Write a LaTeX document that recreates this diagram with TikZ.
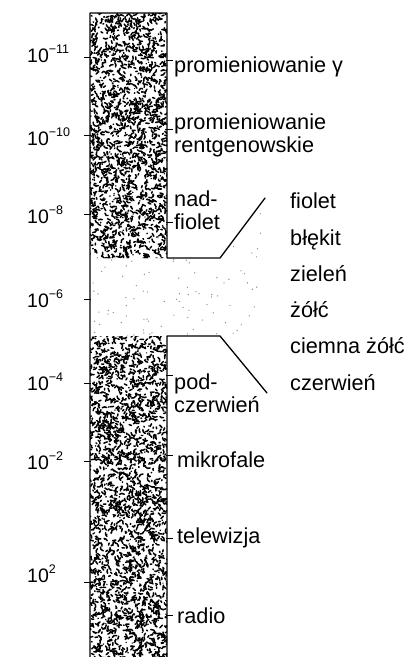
\documentclass[tikz,border=0pt]{standalone}
\usepackage{fontspec}
\setmainfont{Liberation Sans}
\begin{document}
\begin{tikzpicture}[x=1pt,y=-1pt,
  lbl/.style={anchor=base west,inner sep=0pt,font=\fontsize{21.7}{23}\selectfont,align=left},
  exps/.style={anchor=base west,inner sep=0pt,font=\fontsize{19.5}{22}\selectfont},
  tick/.style={line width=1pt},
  edge/.style={line width=1.3pt,line cap=round,line join=round}]
\newcommand{\sexp}[1]{10\raisebox{0.42em}{\fontsize{12.5}{13}\selectfont #1}}
\useasboundingbox (0,0) rectangle (417,657);
% texture of the column
\begin{scope}
\clip (90,13) rectangle (167,258) (90,336) rectangle (167,657);
\pgfmathsetseed{7}
\foreach \i in {1,...,4600}{
  \pgfmathsetmacro\xx{88+81*rnd}
  \pgfmathsetmacro\yy{11+648*rnd}
  \pgfmathsetmacro\aa{360*rnd}
  \pgfmathsetmacro\bb{180*rnd-90}
  \draw[line width=1.5pt,line cap=round] (\xx,\yy) arc[start angle=\aa,delta angle=\bb,radius=3.4];
}
\end{scope}
% faint dots in the visible band
\begin{scope}
\clip (91,258) -- (220,258) -- (262,205) -- (262,388) -- (220,336) -- (91,336) -- cycle;
\pgfmathsetseed{11}
\foreach \i in {1,...,170}{
  \pgfmathsetmacro\xx{92+170*rnd}
  \pgfmathsetmacro\yy{205+185*rnd}
  \fill[black!45] (\xx,\yy) circle[radius=0.7];
}
\end{scope}
% outline
\coordinate (bl) at (90,657);
\coordinate (tl) at (90,13);
\coordinate (tr) at (167,13);
\coordinate (gt) at (167,258);
\coordinate (gtk) at (220,258);
\coordinate (gte) at (265,198);
\coordinate (br) at (167,657);
\coordinate (gb) at (167,336);
\coordinate (gbk) at (220,336);
\coordinate (gbe) at (267,393);
\draw[edge] (bl) -- (tl) -- (tr) -- (gt) -- (gtk) -- (gte);
\draw[edge] (br) -- (gb) -- (gbk) -- (gbe);
% left scale
\foreach \y in {57,135,214,299,383,461,582}{
  \draw[tick] (84,\y) -- (91,\y);
}
\node[exps] (e11) at (27,62) {\sexp{−11}};
\node[exps] (e10) at (27,145) {\sexp{−10}};
\node[exps] (e8) at (27,223) {\sexp{−8}};
\node[exps] (e6) at (27,307) {\sexp{−6}};
\node[exps] (e4) at (27,390) {\sexp{−4}};
\node[exps] (e2) at (27,469) {\sexp{−2}};
\node[exps] (ep2) at (27,582) {\sexp{2}};
% right ticks
\foreach \y in {60,129,222,375,455,538,615}{
  \draw[tick] (166,\y) -- (173,\y);
}
\node[lbl] (gamma) at (174,72) {promieniowanie γ};
\node[lbl] (xray) at (174,152) {promieniowanie\\rentgenowskie};
\node[lbl] (uv) at (174,229) {nad-\\fiolet};
\node[lbl] (ir) at (174,412) {pod-\\czerwień};
\node[lbl] (mw) at (177,467) {mikrofale};
\node[lbl] (tv) at (177,543) {telewizja};
\node[lbl] (radio) at (177,623) {radio};
% colours
\node[lbl] (c1) at (290,208) {fiolet};
\node[lbl] (c2) at (290,245) {błękit};
\node[lbl] (c3) at (290,281) {zieleń};
\node[lbl] (c4) at (290,317) {żółć};
\node[lbl] (c5) at (290,353) {ciemna żółć};
\node[lbl] (c6) at (290,390) {czerwień};
\end{tikzpicture}
\end{document}
